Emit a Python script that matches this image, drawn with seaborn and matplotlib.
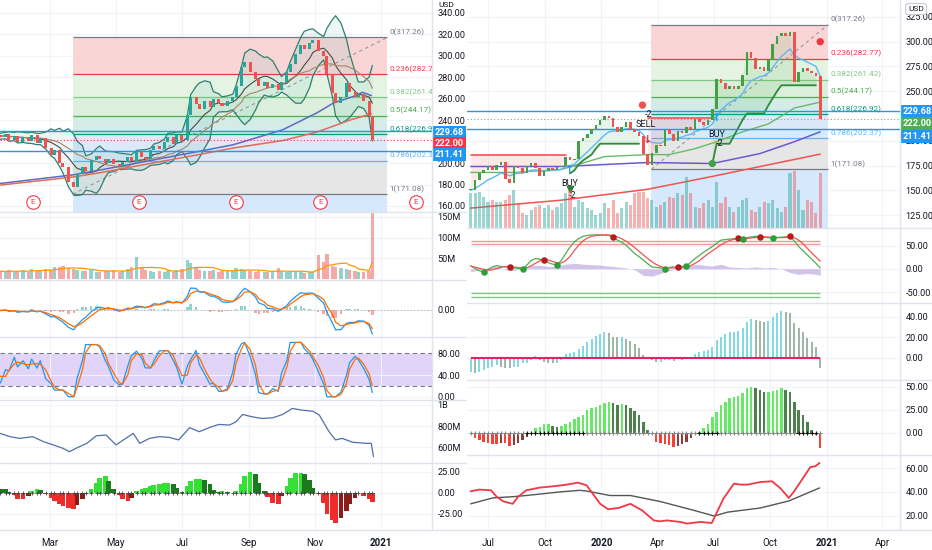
import numpy as np
import pandas as pd
import matplotlib
matplotlib.use("Agg")
import matplotlib.pyplot as plt
import matplotlib.dates as mdates
import matplotlib.transforms as mtrans
from matplotlib.lines import Line2D
import seaborn as sns

# ===================== DATA : left chart (daily, every 3rd session) =====================
left_start = "2020-01-10"
left_close = [226, 224, 227, 222, 225, 220, 224, 221, 226, 219,
              223, 214, 208, 212, 200, 196, 182, 178, 190, 196,
              193, 203, 207, 204, 200, 204, 199, 196, 201, 206,
              202, 210, 206, 204, 212, 216, 213, 220, 224, 218,
              226, 222, 245, 262, 255, 250, 258, 252, 260, 256,
              253, 258, 262, 272, 290, 294, 285, 278, 272, 276,
              270, 274, 268, 276, 285, 292, 302, 310, 306, 312,
              315, 305, 300, 283, 265, 256, 262, 275, 266, 262,
              264, 258, 244, 222]
left_volume_m = [18, 20, 16, 22, 17, 19, 21, 18, 24, 20,
                 22, 25, 21, 28, 30, 32, 27, 24, 22, 20,
                 19, 21, 18, 17, 20, 19, 22, 18, 20, 24,
                 28, 52, 30, 22, 20, 18, 19, 17, 20, 18,
                 21, 24, 45, 38, 28, 22, 20, 19, 21, 18,
                 20, 19, 22, 26, 24, 21, 20, 18, 19, 17,
                 16, 18, 26, 20, 17, 16, 18, 17, 15, 16,
                 18, 57, 42, 60, 32, 28, 26, 24, 22, 20,
                 18, 17, 19, 160]
left_momentum = [6, 5, 4, 1, -3, -7, -8, -4, 2, 5,
                 3, -2, -6, -10, -13, -16, -18, -19, -15, -8,
                 -2, 4, 12, 18, 20, 14, 5, -3, -8, -10,
                 -6, 2, 5, 6, 8, 9, 10, 11, 12, 10,
                 6, 1, 8, 14, 16, 16, 15, 10, 3, 1,
                 2, 1, 0, 2, 10, 20, 25, 22, 12, 2,
                 -5, -12, -13, -4, 8, 18, 23, 24, 22, 15,
                 6, -2, -12, -25, -33, -36, -30, -22, -14, -6,
                 0, -4, -7, -11]
left_obv_dates = ["2020-01-15", "2020-01-24", "2020-02-02", "2020-02-14", "2020-02-24", "2020-03-04",
                  "2020-03-13", "2020-03-19", "2020-03-25", "2020-04-04", "2020-04-13", "2020-04-22",
                  "2020-05-01", "2020-05-10", "2020-05-17", "2020-05-23", "2020-06-01", "2020-06-10",
                  "2020-06-19", "2020-06-28", "2020-07-08", "2020-07-17", "2020-07-26", "2020-08-04",
                  "2020-08-14", "2020-08-20", "2020-08-26", "2020-09-04", "2020-09-13", "2020-09-23",
                  "2020-10-02", "2020-10-11", "2020-10-20", "2020-10-30", "2020-11-05", "2020-11-14",
                  "2020-11-20", "2020-11-26", "2020-12-06", "2020-12-18", "2020-12-23", "2020-12-25"]
left_obv_m = [731, 700, 684, 700, 653, 622, 590, 558, 590, 637, 709, 715, 622, 684,
              731, 637, 684, 700, 694, 669, 785, 747, 785, 816, 810, 841, 910, 888,
              872, 879, 910, 967, 951, 941, 904, 747, 669, 684, 647, 637, 637, 512]
left_ma_blue_dates = ["2020-01-15", "2020-03-22", "2020-04-16", "2020-07-17", "2020-08-17", "2020-10-02",
                      "2020-11-03", "2020-11-18", "2020-12-06", "2020-12-15", "2020-12-23"]
left_ma_blue = [181, 189, 193.5, 211, 217, 231, 247, 256, 262, 266, 263]
left_ma_red_dates = ["2020-01-15", "2020-03-22", "2020-04-16", "2020-07-17", "2020-08-17", "2020-10-02",
                     "2020-11-03", "2020-12-03", "2020-12-23"]
left_ma_red = [179.5, 187, 191, 208, 214, 221, 229, 240, 246]
left_earnings = ["2020-02-14", "2020-05-22", "2020-08-20", "2020-11-06", "2021-02-02"]
left_ticks = ["2020-03-01", "2020-05-01", "2020-07-01", "2020-09-01", "2020-11-01", "2021-01-01"]
left_tick_labels = ["Mar", "May", "Jul", "Sep", "Nov", "2021"]
left_price_ticks = [160, 180, 200, 240, 260, 280, 300, 320, 340]

# ===================== DATA : fibonacci / price lines =====================
fib_names = ["0", "0.236", "0.382", "0.5", "0.618", "0.786", "1"]
fib_values = [317.26, 282.77, 261.42, 244.17, 226.92, 202.37, 171.08]
fib_ext_value = 80.74          # 1.618 level
fib_start = "2020-03-22"
left_fib_end = "2021-01-07"
right_fib_end = "2021-01-03"
price_lines = [229.68, 211.41]
last_price = 222.00

# ===================== DATA : right chart (weekly) =====================
right_start = "2019-06-03"
right_close = [150, 160, 167, 170, 175, 170, 176, 179, 161, 157,
               174, 172, 167, 175, 178, 172, 164, 169, 172, 170,
               173, 175, 184, 181, 182, 200, 203, 207, 212, 216,
               221, 225, 223, 214, 209, 214, 219, 212, 209, 205,
               187, 176, 188, 196, 195, 212, 207, 200, 210, 208,
               214, 211, 222, 219, 216, 221, 232, 262, 258, 252,
               255, 252, 255, 266, 290, 284, 272, 274, 270, 282,
               298, 306, 309, 306, 310, 259, 269, 273, 270, 268,
               265, 222]
right_volume = [175, 175, 180, 155, 130, 140, 130, 130, 140, 165,
                190, 125, 75, 65, 90, 105, 115, 100, 115, 90,
                105, 125, 175, 190, 105, 140, 130, 100, 90, 65,
                75, 125, 100, 140, 75, 100, 130, 115, 175, 180,
                180, 150, 140, 105, 115, 130, 155, 150, 175, 165,
                255, 175, 105, 100, 125, 140, 105, 230, 125, 155,
                105, 80, 105, 140, 150, 90, 80, 105, 130, 125,
                140, 100, 80, 105, 275, 285, 190, 90, 140, 130,
                75, 275]
right_price_ticks = [125, 150, 175, 200, 250, 275, 300, 325]
right_ma_purple_weeks = [0, 21, 41, 56, 67, 75, 81]
right_ma_purple = [174, 174, 178, 177, 187, 199, 209]
right_ma_red_weeks = [0, 21, 41, 56, 81]
right_ma_red = [132, 140, 151, 164, 186.5]
right_ma_green_weeks = [0, 10, 21, 31, 41, 46, 52, 57, 63, 69, 75, 81]
right_ma_green = [168, 168, 171, 184, 186, 186, 192, 199, 209, 217, 233, 239]
trail_down = [(0, 22, 185.5), (41, 56, 222.5)]
trail_up1_start = 23
trail_up1 = [167, 170, 176, 180, 183, 186, 192, 197, 197, 197, 197, 197, 197, 197, 197, 197, 197]
trail_up2_start = 56
trail_up2 = [177, 197, 197, 197, 197, 205, 213, 221, 227.6, 227.6, 227.6, 227.6, 227.6,
             236, 243, 250, 256, 256, 256, 256, 256, 256, 256, 256, 256]
sig_text_weeks = [23, 23.6, 40.6, 41.3, 57, 57.6]
sig_text_prices = [157, 145, 216, 226, 206.5, 197.5]
sig_texts = ["BUY", "-2", "SELL", "-2", "BUY", "-2"]
sig_arrow_weeks = [23, 41, 57]
sig_arrow_prices = [170, 201, 223]
sig_arrows = ["↑", "↓", "↑"]
sig_arrow_colors = ["#2196f3", "#f23645", "#2196f3"]
sig_dot_weeks = [39.8, 56, 81]
sig_dot_prices = [236, 177, 300]
sig_dot_colors = ["#ef5350", "#43a047", "#f23645"]

right_wave = [6, 1, -4, -7, -2, 4, 7, 5, 4, 4,
              2, 1, -1, 8, 18, 22, 21, 19, 13, 10,
              9, 18, 33, 47, 58, 65, 70, 72, 73, 73,
              73, 73, 72, 68, 62, 57, 51, 42, 33, 26,
              19, 11, 4, 3, 2, -1, 3, 4, 3, 5,
              6, 14, 22, 29, 36, 42, 48, 55, 62, 63,
              64, 65, 66, 64, 67, 69, 70, 69, 68, 67,
              66, 68, 68, 69, 70, 60, 48, 39, 30, 21,
              12, 2]
right_flow_weeks = [0, 2, 4, 6, 8, 10, 12, 14, 16, 18, 20, 22, 24, 26, 28, 30, 32, 34, 36, 38, 40,
                    42, 44, 46, 48, 50, 52, 54, 56, 58, 60, 62, 64, 66, 68, 70, 72, 74, 76, 78, 80, 81]
right_flow = [-6, -3, 3, 6, -2, -4, 2, 7, 8, 5, 6, 10, 12, 10, 9, 8, 6, 4, 2, -2, -14,
              -16, -10, -4, 2, 5, 10, 8, 6, 10, 4, 3, 2, 4, 2, 3, 0, -8, -12, -10, -12, -14]
wave_red_dots = [9, 17, 33, 48, 62, 67, 74]
wave_green_dots = [3, 12, 20, 45, 50, 63, 70]
wave_levels_ob = [60, 53]
wave_levels_os = [-53, -60]

right_macd_hist = [-13.7, -14.6, -13.7, -12, -10.4, -8.8, -7, -8.8, -9.8, -10.4,
                   -8.8, -8.8, -5.5, -5.5, -2.3, 2, -2, -4.5, -5, -5.5,
                   -5, -2.3, 3.3, 4.2, 5.9, 8.5, 11.7, 15.6, 18.2, 21,
                   22.8, 24.7, 23.7, 20.5, 19.8, 19.8, 17.9, 16.3, 13.3, 9,
                   2.6, 0, -2.3, -3.9, -3.9, -2.3, -2.3, -3.3, -1.6, -2.3,
                   -1.3, -0.7, 3.3, 5.2, 6.5, 7.5, 10.7, 17.2, 20.5, 22.8,
                   24.7, 25.4, 26, 29.3, 35, 37.4, 36.4, 35.8, 35, 35.8,
                   40, 43.2, 45.5, 44.9, 43.2, 33.5, 28.6, 25.4, 19.5, 15.6,
                   10.7, -10.4]
right_squeeze = [0, -6, -8, -10.5, -11.6, -12.7, -12.7, -11.6, -11.6, -14,
                 -13.4, -11.6, -8, -4.3, 0, 4.7, 6.5, 9, 9, 7.2,
                 6.5, 7.6, 9, 12, 14.5, 17.4, 19.2, 24.6, 26.4, 28.2,
                 30, 31.9, 33.7, 31.9, 30, 30.8, 30, 26.4, 23.5, 19.2,
                 12, 2.9, -0.7, -9.8, -11.6, -12.7, -13.4, -15.2, -14, -12.7,
                 -9.8, -6.2, -0.7, 1, 4.7, 9, 17.4, 22.8, 30, 33.7,
                 37.3, 39, 39.5, 42.7, 48.1, 49.2, 48.1, 46.3, 44.5, 44.5,
                 45.6, 46.3, 48.1, 46.3, 43.8, 33.7, 24.6, 19.2, 12, 2.9,
                 -3, -17]
squeeze_on_ranges = [(13, 26), (53, 57), (76, 80)]

right_red_dates = ["2019-06-03", "2019-06-17", "2019-07-06", "2019-07-15", "2019-07-26", "2019-08-10",
                   "2019-08-19", "2019-09-01", "2019-09-23", "2019-10-15", "2019-11-06", "2019-11-24",
                   "2019-12-08", "2019-12-30", "2020-01-12", "2020-01-29", "2020-02-17", "2020-03-07",
                   "2020-03-26", "2020-04-05", "2020-04-16", "2020-05-08", "2020-05-19", "2020-06-09",
                   "2020-06-28", "2020-07-17", "2020-08-03", "2020-08-14", "2020-08-25", "2020-09-15",
                   "2020-10-04", "2020-10-18", "2020-10-31", "2020-11-08", "2020-12-05", "2020-12-13",
                   "2020-12-20"]
right_red_vals = [40.6, 42, 41.4, 36, 32, 30, 36, 41.4, 43.7, 44.8, 46.2, 47.9, 45.6, 30, 25.4, 26.5,
                  30, 24.5, 16, 15.2, 16, 14.7, 13.3, 14.7, 13.8, 34.4, 47, 46.2, 46.2, 48.4, 49,
                  42.8, 35, 40, 61, 61.7, 64.5]
right_grey_dates = ["2019-06-03", "2019-07-09", "2019-08-10", "2019-09-01", "2019-10-25", "2019-11-27",
                    "2019-12-08", "2020-01-15", "2020-02-17", "2020-04-05", "2020-05-30", "2020-07-02",
                    "2020-07-24", "2020-09-15", "2020-10-02", "2020-10-31", "2020-12-20"]
right_grey_vals = [30, 35, 36, 37, 40, 41.4, 40.8, 37, 37, 32, 24.5, 19.7, 23, 26.5, 28.7, 32.4, 43.4]
right_ticks = ["2019-07-01", "2019-10-01", "2020-01-01", "2020-04-01", "2020-07-01", "2020-10-01",
               "2021-01-01", "2021-04-01"]
right_tick_labels = ["Jul", "Oct", "2020", "Apr", "Jul", "Oct", "2021", "Apr"]

# ===================== STYLE =====================
sns.set_theme(style="white")
plt.rcParams["font.family"] = ["Roboto", "DejaVu Sans"]
plt.rcParams["axes.unicode_minus"] = False
TXT = "#131722"
GRID = "#f0f3fa"
SEP = "#e0e3eb"
UP, DN = "#26a69a", "#ef5350"
FS = 6.6
FIB_FS = 5.9
FIB_FILL = ["#f9d6d5", "#e5f3e3", "#dcefdc", "#d3ece6", "#dce9f6", "#e6e6e6", "#d6e8fb"]
FIB_LINE = ["#787b86", "#f23645", "#81c784", "#4caf50", "#089981", "#64b5f6", "#787b86"]

W, H = 932, 550
fig = plt.figure(figsize=(W / 100, H / 100), dpi=100)


def dn(s):
    return mdates.date2num(pd.Timestamp(s).to_pydatetime())


def dns(lst):
    return np.array([dn(s) for s in lst])


lppd = (dn("2021-01-01") - dn("2020-03-01")) / (381 - 50)
LX = (dn("2020-03-01") - 50 * lppd, dn("2020-03-01") + (432 - 50) * lppd)
rppd = (dn("2021-01-01") - dn("2019-07-01")) / (827 - 488)
RX = (dn("2019-07-01") - (488 - 467) * rppd, dn("2019-07-01") + (900 - 488) * rppd)
LT, RT = dns(left_ticks), dns(right_ticks)


def style_y(ax):
    ax.yaxis.tick_right()
    ax.tick_params(axis="y", length=0, pad=4, labelsize=FS, labelcolor=TXT)


def pane(x0, y0, x1, y1, xlim, ticks):
    ax = fig.add_axes([x0 / W, 1 - y1 / H, (x1 - x0) / W, (y1 - y0) / H])
    ax.patch.set_alpha(0)
    for s in ax.spines.values():
        s.set_visible(False)
    style_y(ax)
    ax.tick_params(axis="x", length=0, labelbottom=False)
    ax.set_xlim(*xlim)
    ax.set_xticks(ticks)
    ax.grid(True, color=GRID, lw=0.8)
    ax.set_axisbelow(True)
    return ax


def yt(ax, vals, labels):
    ax.set_yticks(vals)
    ax.set_yticklabels(labels)


def money(v):
    return f"{v:.2f}"


def candles(ax, x, o, c, width, up, dnc, z=4):
    o = np.asarray(o, float)
    c = np.asarray(c, float)
    col = np.where(c >= o, up, dnc)
    h = np.maximum(np.abs(c - o), 0.8)
    ax.bar(x, h, bottom=np.minimum(o, c), width=width, color=col, linewidth=0, zorder=z)


def draw_fib(ax, x0, x1, clip):
    levels = fib_values + [fib_ext_value]
    for i in range(len(levels) - 1):
        ax.fill_between([x0, x1], levels[i], levels[i + 1], color=FIB_FILL[i], lw=0, zorder=0.6)
    ax.hlines(fib_values, x0, x1, colors=FIB_LINE, lw=0.9, zorder=0.8)
    ax.plot([x0, x1], [fib_values[-1], fib_values[0]], color="#9598a1", lw=0.8, ls=(0, (3, 3)), zorder=1)
    off = mtrans.offset_copy(ax.transData, fig=fig, x=2, y=1.5, units="dots")
    for n, v, c in zip(fib_names, fib_values, FIB_LINE):
        ax.text(x1, v, f"{n}({v:.2f})", transform=off, color=c, fontsize=FIB_FS, ha="left",
                va="bottom", clip_on=clip, zorder=5)


def price_box(ax, v, color, dy_px):
    tr = mtrans.offset_copy(mtrans.blended_transform_factory(ax.transAxes, ax.transData),
                            fig=fig, x=2.5, y=-dy_px, units="dots")
    ax.text(1.0, v, f"{v:.2f}", transform=tr, color="white", fontsize=FS, fontweight="bold",
            ha="left", va="center", clip_on=False, zorder=20,
            bbox=dict(boxstyle="square,pad=0.22", fc=color, ec="none"))


def mom_colors(vals, lime, dgreen, red, maroon):
    out, prev = [], vals[0]
    for v in vals:
        if v >= 0:
            out.append(lime if v >= prev else dgreen)
        else:
            out.append(red if v <= prev else maroon)
        prev = v
    return out


# ===================== LEFT CHART =====================
ld = mdates.date2num(pd.date_range(left_start, periods=len(left_close), freq="3B").to_pydatetime())
lc = pd.Series(left_close, dtype=float)
lo = [left_close[0]] + left_close[:-1]

axL = pane(0, 0, 432, 212, LX, LT)
axL.set_ylim(154.4, 352.1)
yt(axL, left_price_ticks, [money(v) for v in left_price_ticks])
draw_fib(axL, dn(fib_start), dn(left_fib_end), True)

mid = lc.rolling(7, min_periods=1).mean()
sd = lc.rolling(7, min_periods=1).std().fillna(0)
axL.fill_between(ld, mid - 2 * sd, mid + 2 * sd, color="#26a69a", alpha=0.09, lw=0, zorder=1)
sns.lineplot(x=ld, y=(mid + 2 * sd).values, ax=axL, color="#2f7f6f", lw=0.9, zorder=2)
sns.lineplot(x=ld, y=(mid - 2 * sd).values, ax=axL, color="#2f7f6f", lw=0.9, zorder=2)
sns.lineplot(x=ld, y=mid.values, ax=axL, color="#4a4a4a", lw=0.8, zorder=2)
sns.lineplot(x=ld, y=lc.rolling(14, min_periods=1).mean().values, ax=axL, color="#a98467", lw=0.8, zorder=2)
sns.lineplot(x=dns(left_ma_blue_dates), y=left_ma_blue, ax=axL, color="#5c6bc0", lw=1.1, zorder=2)
sns.lineplot(x=dns(left_ma_red_dates), y=left_ma_red, ax=axL, color="#e06c5a", lw=1.1, zorder=2)
for v in price_lines:
    axL.axhline(v, color="#2196f3", lw=1.0, zorder=2.5)
axL.axhline(last_price, color="#f23645", lw=0.8, ls=(0, (1, 2)), zorder=2.5)
candles(axL, ld, lo, left_close, 2.8, UP, DN)

etr = mtrans.blended_transform_factory(axL.transData, axL.transAxes)
ed = dns(left_earnings)
axL.scatter(ed, np.full(len(ed), 0.047), transform=etr, s=95, facecolor="white",
            edgecolor="#f23645", lw=0.8, clip_on=False, zorder=6)
for x in ed:
    axL.text(x, 0.047, "E", transform=etr, color="#f23645", fontsize=5.8, ha="center",
             va="center", zorder=7)
price_box(axL, 229.68, "#2196f3", 1.7)
price_box(axL, last_price, "#f23645", 4)
price_box(axL, 211.41, "#2196f3", 4)
axL.text(1.0, 1.0, "USD", transform=mtrans.offset_copy(axL.transAxes, fig=fig, x=14, y=-5, units="dots"),
         fontsize=6.0, color=TXT, ha="center", va="center", clip_on=False)

# volume
axV = pane(0, 212, 432, 280, LX, LT)
axV.set_ylim(-2.4, 162)
yt(axV, [50, 100, 150], ["50M", "100M", "150M"])
vcol = [UP if c >= o else DN for o, c in zip(lo, left_close)]
axV.bar(ld, left_volume_m, width=3.0, color=vcol, alpha=0.5, lw=0)
sns.lineplot(x=ld, y=pd.Series(left_volume_m, dtype=float).rolling(7, min_periods=1).mean().values,
             ax=axV, color="#ff9800", lw=0.9)

# MACD
axM = pane(0, 280, 432, 337, LX, LT)
ema_f = lc.ewm(span=4, adjust=False).mean()
ema_s = lc.ewm(span=9, adjust=False).mean()
macd = ema_f - ema_s
sig = macd.ewm(span=3, adjust=False).mean()
hist = macd - sig
M = max(macd.abs().max(), sig.abs().max())
k = M / 24
axM.set_ylim(-27 * k, 30 * k)
yt(axM, [0], ["0.00"])
axM.axhline(0, color="#b2b5be", lw=0.6, ls=(0, (2, 2)))
axM.bar(ld, hist.values, width=2.2, color=[UP if h >= 0 else DN for h in hist], alpha=0.5, lw=0)
sns.lineplot(x=ld, y=macd.values, ax=axM, color="#2196f3", lw=0.9)
sns.lineplot(x=ld, y=sig.values, ax=axM, color="#ff6d00", lw=0.9)

# Stoch RSI
axSt = pane(0, 337, 432, 400, LX, LT)
axSt.set_ylim(-6, 110)
yt(axSt, [0, 40, 80], ["0.00", "40.00", "80.00"])
delta = lc.diff().fillna(0)
g = delta.clip(lower=0).ewm(alpha=1 / 5, adjust=False).mean()
l_ = (-delta.clip(upper=0)).ewm(alpha=1 / 5, adjust=False).mean()
rsi = (100 * g / (g + l_).replace(0, np.nan)).fillna(50)
rlo = rsi.rolling(6, min_periods=1).min()
rhi = rsi.rolling(6, min_periods=1).max()
st = ((rsi - rlo) / (rhi - rlo).replace(0, np.nan) * 100).fillna(50)
kk = st.rolling(3, min_periods=1).mean()
dd = kk.rolling(2, min_periods=1).mean()
axSt.axhspan(20, 80, color="#e1d4f8", lw=0, zorder=0.5)
axSt.axhline(80, color="#787b86", lw=0.8, ls=(0, (4, 3)))
axSt.axhline(20, color="#787b86", lw=0.8, ls=(0, (4, 3)))
sns.lineplot(x=ld, y=kk.values, ax=axSt, color="#2196f3", lw=0.9)
sns.lineplot(x=ld, y=dd.values, ax=axSt, color="#ff6d00", lw=0.9)

# OBV
axOb = pane(0, 400, 432, 463, LX, LT)
axOb.set_ylim(451, 1047)
yt(axOb, [600, 800, 1000], ["600M", "800M", "1B"])
sns.lineplot(x=dns(left_obv_dates), y=left_obv_m, ax=axOb, color="#4f6fa8", lw=0.9)

# momentum
axMo = pane(0, 463, 432, 530, LX, LT)
axMo.set_ylim(-44.4, 35.4)
yt(axMo, [-25, 0, 25], ["-25.00", "0.00", "25.00"])
axMo.bar(ld, left_momentum, width=4.4, lw=0,
         color=mom_colors(left_momentum, "#33e033", "#1b7a1b", "#f02b2b", "#8b1a1a"))
axMo.scatter(ld, np.zeros(len(ld)), marker="+", s=7, color="#444444", lw=0.6, zorder=4)
axMo.tick_params(axis="x", labelbottom=True, pad=6, labelsize=7, labelcolor=TXT)
axMo.set_xticklabels(left_tick_labels)
for t in axMo.get_xticklabels():
    if t.get_text().isdigit():
        t.set_fontweight("bold")

# ===================== RIGHT CHART =====================
rd = mdates.date2num(pd.date_range(right_start, periods=len(right_close), freq="7D").to_pydatetime())
ro = [right_close[0]] + right_close[:-1]
rc = pd.Series(right_close, dtype=float)


def wk(w):
    return rd[0] + 7 * np.asarray(w, float)


axR = pane(467, 0, 900, 228, RX, RT)
axR.set_ylim(111.9, 342.1)
draw_fib(axR, dn(fib_start), dn(right_fib_end), False)
for v in price_lines:
    axR.axhline(v, color="#2196f3", lw=1.0, zorder=2.5)
axR.axhline(last_price, color="#9598a1", lw=0.8, ls=(0, (1, 2)), zorder=2.5)

sns.lineplot(x=wk(right_ma_red_weeks), y=right_ma_red, ax=axR, color="#ef5350", lw=1.1, zorder=2)
sns.lineplot(x=wk(right_ma_purple_weeks), y=right_ma_purple, ax=axR, color="#6a5acd", lw=1.1, zorder=2)
sns.lineplot(x=wk(right_ma_green_weeks), y=right_ma_green, ax=axR, color="#66bb6a", lw=1.0, zorder=2)
sns.lineplot(x=rd, y=rc.ewm(span=10, adjust=False).mean().values, ax=axR, color="#64b5f6", lw=1.0, zorder=2)

for a, b, v in trail_down:
    xs = rd[a:b + 1]
    axR.fill_between(xs, v, rc.values[a:b + 1], color="#ef5350", alpha=0.13, lw=0, zorder=1.5)
    axR.plot(xs, np.full(len(xs), v), color="#ef5350", lw=1.2, zorder=2.2)
for s0, vals in [(trail_up1_start, trail_up1), (trail_up2_start, trail_up2)]:
    xs = rd[s0:s0 + len(vals)]
    axR.fill_between(xs, vals, rc.values[s0:s0 + len(vals)], color="#4caf50", alpha=0.13, lw=0, zorder=1.5)
    sns.lineplot(x=xs, y=vals, ax=axR, color="#2e8b3a", lw=1.3, zorder=2.2)

candles(axR, rd, ro, right_close, 4.2, "#43a047", "#ef5350")

for w, p, t in zip(sig_text_weeks, sig_text_prices, sig_texts):
    axR.text(wk(w), p, t, fontsize=6.6, color=TXT, ha="center", va="center", zorder=8)
for w, p, t, c in zip(sig_arrow_weeks, sig_arrow_prices, sig_arrows, sig_arrow_colors):
    axR.text(wk(w), p, t, fontsize=8, color=c, ha="center", va="center", fontweight="bold",
             family=["DejaVu Sans"], zorder=8)
sns.scatterplot(x=wk(sig_dot_weeks), y=sig_dot_prices, ax=axR, hue=list(range(len(sig_dot_colors))),
                palette=sig_dot_colors, s=28, edgecolor="none", legend=False, zorder=8)
axR.scatter(wk(23), 151, marker="v", s=20, color="#2e7d32", zorder=8)

price_box(axR, 229.68, "#2196f3", 0)
price_box(axR, last_price, "#4caf50", 5)
price_box(axR, 211.41, "#2196f3", 6.6)
axR.text(1.0, 1.0, "USD", transform=mtrans.offset_copy(axR.transAxes, fig=fig, x=16, y=-9, units="dots"),
         fontsize=6.0, color=TXT, ha="center", va="center", clip_on=False, zorder=20,
         bbox=dict(boxstyle="round,pad=0.3", fc="white", ec="#c9ccd4", lw=0.8))

axRV = axR.twinx()
axRV.set_ylim(0, 1140)
axRV.axis("off")
axRV.bar(rd, right_volume, width=5.0, lw=0, alpha=0.45,
         color=["#26a69a" if c >= o else "#ef5350" for o, c in zip(ro, right_close)])
# twinx moves the host ticks to the left: put them back on the right
style_y(axR)
yt(axR, right_price_ticks, [money(v) for v in right_price_ticks])

# wave oscillator
axW = pane(467, 228, 900, 303, RX, RT)
axW.set_ylim(-73.7, 88)
yt(axW, [-50, 0, 50], ["-50.00", "0.00", "50.00"])
wave = pd.Series(right_wave, dtype=float)
axW.fill_between(wk(right_flow_weeks), 0, right_flow, color="#7e57c2", alpha=0.35, lw=0)
axW.hlines(wave_levels_ob, rd[0], rd[-1], colors="#ef9a9a", lw=1.0)
axW.hlines(wave_levels_os, rd[0], rd[-1], colors="#81c784", lw=1.0)
sns.lineplot(x=rd, y=wave.values, ax=axW, color="#4caf50", lw=0.9)
sns.lineplot(x=rd, y=wave.rolling(4, min_periods=1).mean().values, ax=axW, color="#ef5350", lw=0.9)
axW.scatter(rd[wave_red_dots], wave.values[wave_red_dots], s=22, color="#b71c1c", zorder=5, lw=0)
axW.scatter(rd[wave_green_dots], wave.values[wave_green_dots], s=22, color="#2e9e3a", zorder=5, lw=0)

# MACD histogram (lines)
axH = pane(467, 303, 900, 380, RX, RT)
axH.set_ylim(-21.8, 53.4)
yt(axH, [0, 20, 40], ["0.00", "20.00", "40.00"])
hcols = []
prev = right_macd_hist[0]
for v in right_macd_hist:
    hcols.append("#84d8e0" if v >= prev else "#9db5a5")
    prev = v
axH.vlines(rd, 0, right_macd_hist, colors=hcols, lw=1.4)
axH.hlines(0, rd[0], rd[-1], color="#e91e63", lw=1.5, zorder=3)

# squeeze momentum
axS = pane(467, 380, 900, 455, RX, RT)
axS.set_ylim(-24.2, 57.3)
yt(axS, [0, 25, 50], ["0.00", "25.00", "50.00"])
axS.bar(rd, right_squeeze, width=4.0, lw=0,
        color=mom_colors(right_squeeze, "#66ea66", "#4e804e", "#f44336", "#8e3b3b"))
ccols = ["#888888"] * len(rd)
for a, b in squeeze_on_ranges:
    for i in range(a, b + 1):
        ccols[i] = "#111111"
axS.scatter(rd, np.zeros(len(rd)), marker="+", s=10, c=ccols, lw=0.8, zorder=4)

# bottom lines
axB = pane(467, 455, 900, 530, RX, RT)
axB.set_ylim(7.9, 71.2)
yt(axB, [20, 40, 60], ["20.00", "40.00", "60.00"])
sns.lineplot(x=dns(right_grey_dates), y=right_grey_vals, ax=axB, color="#555555", lw=1.0)
sns.lineplot(x=dns(right_red_dates), y=right_red_vals, ax=axB, color="#f23645", lw=1.3)
axB.tick_params(axis="x", labelbottom=True, pad=6, labelsize=7, labelcolor=TXT)
axB.set_xticklabels(right_tick_labels)
for t in axB.get_xticklabels():
    if t.get_text().isdigit():
        t.set_fontweight("bold")

# pane separators / scale borders
for y in [212, 280, 337, 400, 463, 530]:
    fig.add_artist(Line2D([0, 466 / W], [1 - y / H] * 2, color=SEP, lw=1))
for y in [228, 303, 380, 455, 530]:
    fig.add_artist(Line2D([467 / W, 1], [1 - y / H] * 2, color=SEP, lw=1))
for x in [432, 900]:
    fig.add_artist(Line2D([x / W] * 2, [1 - 530 / H, 1], color=SEP, lw=1))

fig.savefig("out.png", dpi=100)
